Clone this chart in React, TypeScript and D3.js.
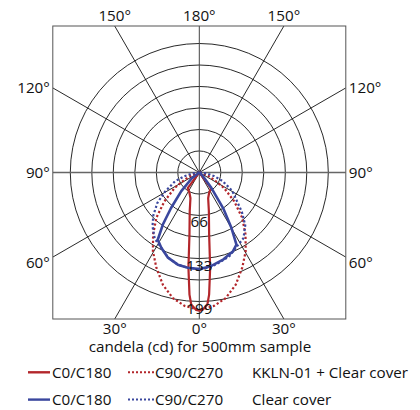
import React from 'react';
import * as d3 from 'd3';

// gamma angle from nadir in degrees (negative = left half), candela
const kkC0Angles = [-90, -40, -36.6, -25.6, -19, -14, -9, -6.5, -4.6, -3.5, -1.3, 0, 1.3, 3.5, 4.6, 6.5, 9, 14, 19, 25.6, 36.6, 40, 90];
const kkC0Values = [0, 0, 30, 35, 42, 61, 97, 148, 189, 204, 212, 213, 212, 204, 189, 148, 97, 61, 42, 35, 30, 0, 0];

const kkC90Angles = [-90, -80, -72, -64, -58, -50.4, -43.5, -36.8, -30.5, -24.3, -18, -11.9, -6.3, 0, 6.3, 11.9, 18, 24.3, 30.5, 36.8, 43.5, 50.4, 58, 64, 72, 80, 90];
const kkC90Values = [0, 3, 12, 25, 45, 70, 96, 119, 141, 161, 182, 198, 207, 212, 207, 198, 182, 161, 141, 119, 96, 70, 45, 25, 12, 3, 0];

const clC0Angles = [-90, -60, -52, -44, -38.5, -35, -31.7, -26.8, -20.2, -13.1, -6.9, 0, 6.5, 15.6, 23.2, 27.3, 30.1, 33.8, 38.2, 45, 55, 90];
const clC0Values = [0, 0, 15, 40, 70, 98, 122, 130, 140, 146, 148, 149, 146, 139, 132, 125, 99, 66, 30, 8, 0, 0];

const clC90Angles = [-90, -88, -82, -76, -70, -61, -54, -47, -41, -34, -27, -20, -13, -7, 0, 7, 13, 20, 27, 34, 41, 47, 54, 61, 70, 76, 82, 88, 90];
const clC90Values = [0, 3, 12, 24, 40, 60, 80, 97, 110, 123, 130, 140, 146, 148, 149, 147, 142, 137, 128, 122, 108, 90, 70, 58, 38, 24, 12, 3, 0];

const ringTicks = [33.2, 66.3, 99.5, 132.7, 165.8, 199];
const ringLabels = ['', '66', '', '133', '', '199'];
const spokeAngles = [0, 30, 60, 90, 120, 150, 180];

const legendRows = ['KKLN-01 + Clear cover', 'Clear cover'];
const legendItems = ['C0/C180', 'C90/C270'];
const axisTitle = 'candela (cd) for 500mm sample';

const RED = '#b3262b';
const BLUE = '#3a479e';
const FONT = '"Open Sans", sans-serif';
const FS = 15.2;

export default function App() {
  const cx = 199.3;
  const cy = 172.5;
  const half = 146.5;
  const left = cx - half;
  const right = cx + half;
  const top = cy - half;
  const bottom = cy + half;

  const rScale = d3.scaleLinear().domain([0, 199]).range([0, 129]);

  const radial = (angles: number[], values: number[]) => {
    const pts = angles.map((a, i) => [a, values[i]] as [number, number]);
    return d3.lineRadial<[number, number]>()
      .angle(d => Math.PI - (d[0] * Math.PI) / 180)
      .radius(d => rScale(d[1]))(pts) || '';
  };

  const series = [
    {a: kkC0Angles, v: kkC0Values, color: RED, dotted: false, w: 2.2},
    {a: kkC90Angles, v: kkC90Values, color: RED, dotted: true, w: 2.2},
    {a: clC90Angles, v: clC90Values, color: BLUE, dotted: true, w: 2.2},
    {a: clC0Angles, v: clC0Values, color: BLUE, dotted: false, w: 2.6},
  ];

  // where a spoke (angle from nadir, signed) meets the frame
  const hit = (deg: number) => {
    const t = (deg * Math.PI) / 180;
    const dx = Math.sin(t);
    const dy = Math.cos(t);
    const k = Math.min(
      Math.abs(dx) > 1e-6 ? half / Math.abs(dx) : Infinity,
      Math.abs(dy) > 1e-6 ? half / Math.abs(dy) : Infinity
    );
    return [cx + dx * k, cy + dy * k];
  };

  const spokes: number[] = [];
  spokeAngles.forEach(a => {
    spokes.push(a);
    if (a > 0 && a < 180) spokes.push(-a);
  });

  return (
    <div style={{position: 'absolute', left: 0, top: 0}}>
      <svg width={420} height={410} style={{display: 'block', fontFamily: FONT}}>
        <defs>
          <clipPath id="frame">
            <rect x={left} y={top} width={right - left} height={bottom - top}/>
          </clipPath>
        </defs>

        <g transform={`translate(${cx},${cy})`} fill="none" stroke="#111" strokeWidth={0.9}>
          {ringTicks.map((t, i) => <circle key={i} r={rScale(t)}/>)}
        </g>

        <g clipPath="url(#frame)">
          {spokes.filter(a => Math.abs(a) !== 90 && a !== 0 && a !== 180).map(a => {
            const [x, y] = hit(a);
            return <line key={a} x1={cx} y1={cy} x2={x} y2={y} stroke="#111" strokeWidth={0.9}/>;
          })}
          <line x1={cx} y1={top} x2={cx} y2={bottom} stroke="#444" strokeWidth={1}/>
          <line x1={left} y1={cy} x2={right} y2={cy} stroke="#666" strokeWidth={1.6}/>
        </g>

        <rect x={left} y={top} width={right - left} height={bottom - top} fill="none" stroke="#555" strokeWidth={1}/>

        <g transform={`translate(${cx},${cy})`} fill="none">
          {series.map((s, i) => (
            <path key={i} d={radial(s.a, s.v)} stroke={s.color} strokeWidth={s.w}
              strokeDasharray={s.dotted ? '2.2 2.2' : undefined} strokeLinejoin="round"/>
          ))}
        </g>

        <g fontSize={FS} fill="#111" textAnchor="middle">
          {ringTicks.map((t, i) => ringLabels[i] ? (
            <text key={i} x={cx} y={cy + rScale(t) + 12}>{ringLabels[i]}</text>
          ) : null)}
        </g>

        <g fontSize={FS} fill="#111">
          {spokes.map(a => {
            const [x, y] = hit(a);
            const label = `${Math.abs(a)}°`;
            if (Math.abs(a) >= 150 || a === 180) {
              return <text key={a} x={x} y={top - 5} textAnchor="middle">{label}</text>;
            }
            if (Math.abs(a) <= 30) {
              return <text key={a} x={x} y={bottom + 14.5} textAnchor="middle">{label}</text>;
            }
            const dy = Math.abs(a) < 90 ? 11 : 5.5;
            return a < 0
              ? <text key={a} x={left - 3} y={y + dy} textAnchor="end">{label}</text>
              : <text key={a} x={right + 3} y={y + dy} textAnchor="start">{label}</text>;
          })}
          <text x={200} y={352} textAnchor="middle">{axisTitle}</text>
        </g>

        <g fontSize={FS} fill="#111">
          {legendRows.map((row, ri) => {
            const y = 372.3 + ri * 27.3;
            const color = ri === 0 ? RED : BLUE;
            return (
              <g key={row}>
                <line x1={28} x2={50} y1={y} y2={y} stroke={color} strokeWidth={2.4}/>
                <text x={52} y={y + 5.5}>{legendItems[0]}</text>
                <line x1={128} x2={154} y1={y} y2={y} stroke={color} strokeWidth={2}
                  strokeDasharray="2 2"/>
                <text x={155} y={y + 5.5}>{legendItems[1]}</text>
                <text x={252} y={y + 5.5}>{row}</text>
              </g>
            );
          })}
        </g>
      </svg>
    </div>
  );
}
